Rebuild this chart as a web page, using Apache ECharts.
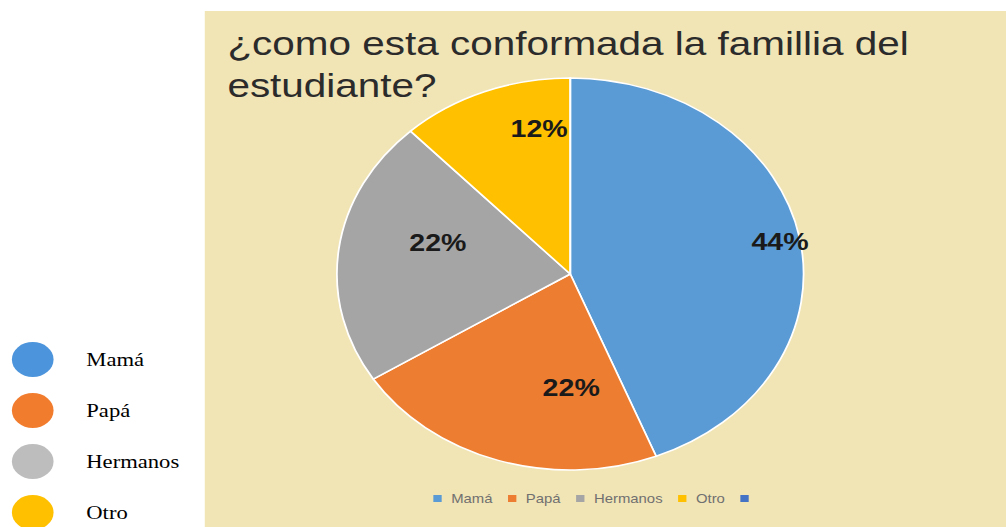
<!DOCTYPE html>
<html>
<head>
<meta charset="utf-8">
<script src="https://cdn.jsdelivr.net/npm/echarts@6/dist/echarts.min.js"></script>
<style>
html,body{margin:0;padding:0;background:#fff;overflow:hidden;width:1006px;height:527px;}
#wrap{position:absolute;left:0;top:0;width:845px;height:527px;transform:scaleX(1.1905);transform-origin:0 0;}
#chart{width:845px;height:527px;}
</style>
</head>
<body>
<div id="wrap"><div id="chart"></div></div>
<script>
// ---- data ----
const titleText = '¿como esta conformada la famillia del\nestudiante?';
const categories = ['Mamá', 'Papá', 'Hermanos', 'Otro', ' '];
const values = [44, 22, 22, 12, 0];
const sideLegendLabels = ['Mamá', 'Papá', 'Hermanos', 'Otro'];

// ---- styling ----
const sliceColors = ['#5B9BD5', '#ED7D31', '#A5A5A5', '#FFC000', '#4472C4'];
const sideColors = ['#4C94DB', '#F27C2E', '#BDBDBD', '#FFC000'];
const labelNudges = [[77, -13], [32, 18], [-11, -19], [11, -51], [0, 0]];
const ellipse = 'path://M0,50 A50,50 0 1,1 100,50 A50,50 0 1,1 0,50 Z';

const chart = echarts.init(document.getElementById('chart'), null, {renderer: 'svg'});

const option = {
  animation: false,
  color: sliceColors,
  graphic: [{
    type: 'rect', z: -10, silent: true,
    shape: {x: 172, y: 11, width: 680, height: 520},
    style: {fill: '#F1E4B5'}
  }],
  title: {
    text: titleText,
    left: 191, top: 22, padding: 0,
    textStyle: {fontFamily: 'Liberation Sans', fontSize: 34, fontWeight: 'normal', color: '#2b2b2b', lineHeight: 42}
  },
  legend: [{
    data: categories,
    selectedMode: false,
    orient: 'horizontal',
    left: 359, top: 487,
    icon: 'rect', itemWidth: 7, itemHeight: 7, itemGap: 13,
    itemStyle: {borderWidth: 0},
    textStyle: {fontFamily: 'Liberation Sans', fontSize: 12.5, color: '#707070', padding: [0, 0, 0, 3]}
  }, {
    data: sideLegendLabels.map((n, i) => ({name: n, icon: ellipse, itemStyle: {color: sideColors[i], borderWidth: 0}})),
    selectedMode: false,
    orient: 'vertical',
    left: 10, top: 342, height: 260, width: 170, padding: 0,
    itemWidth: 42, itemHeight: 35, itemGap: 16,
    itemStyle: {borderWidth: 0},
    textStyle: {fontFamily: 'Liberation Serif', fontSize: 19, color: '#000', padding: [0, 0, 0, 19]}
  }],
  series: [{
    type: 'pie',
    center: [479, 274],
    radius: 196,
    startAngle: 90,
    clockwise: true,
    avoidLabelOverlap: false,
    emphasis: {disabled: true},
    itemStyle: {borderColor: '#ffffff', borderWidth: 1.5},
    label: {
      show: true, position: 'inside',
      fontFamily: 'Liberation Sans', fontSize: 24, fontWeight: 'bold', color: '#1a1a1a',
      formatter: p => p.value ? p.value + '%' : ''
    },
    labelLine: {show: false},
    data: categories.map((c, i) => ({
      name: c, value: values[i],
      label: {offset: labelNudges[i]}
    }))
  }]
};
chart.setOption(option);
</script>
</body>
</html>
